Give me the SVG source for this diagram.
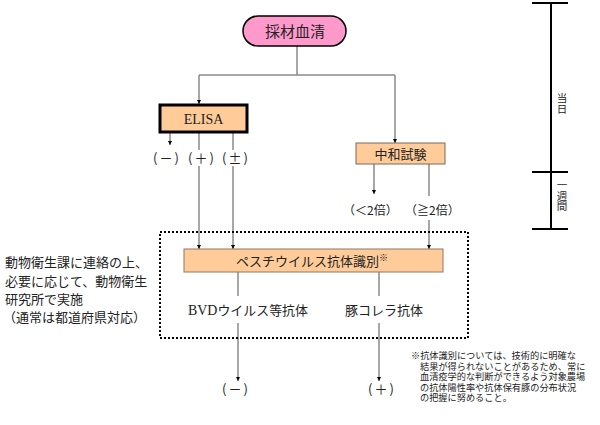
<svg xmlns="http://www.w3.org/2000/svg" width="600" height="425" viewBox="0 0 600 425">
<style>
.jp{font-family:"Noto Sans CJK JP","Noto Sans",sans-serif;fill:#222}
.se{font-family:"Liberation Serif","Times New Roman",serif;fill:#222}
.c{stroke:#8a8a8a;stroke-width:1.5;fill:none}
.ca{stroke:#8a8a8a;stroke-width:1.5;fill:none;marker-end:url(#ah)}
.box{fill:#FFCC99}
.tl{stroke:#000;stroke-width:2}
.fn{font-size:9.2px}
.pm{font-size:13px;letter-spacing:2px}
.vt{writing-mode:vertical-rl;text-orientation:upright;font-size:10.5px}
</style>
<defs>
<marker id="ah" viewBox="0 0 10 10" refX="10" refY="5" markerWidth="4" markerHeight="4" markerUnits="userSpaceOnUse" orient="auto"><path d="M0,0L10,5L0,10z" fill="#000"/></marker>
</defs>
<rect width="600" height="425" fill="#fff"/>
<g id="connectors">
<path class="c" d="M297,46V75M199,75H395"/>
<path class="ca" d="M199,75V104"/>
<path class="ca" d="M395,75V143"/>
<path class="ca" d="M170,132V145"/>
<path class="c" d="M199,132V150M233,132V150"/>
<path class="ca" d="M199,166V249"/>
<path class="ca" d="M233,166V249"/>
<path class="ca" d="M374,164V194"/>
<path class="c" d="M429,164V196"/>
<path class="ca" d="M429,220V249"/>
<path class="c" d="M238,272V296M379,272V296"/>
<path class="ca" d="M238,323V381"/>
<path class="ca" d="M379,323V381"/>
</g>
<g id="timeline">
<path class="tl" d="M551,3V229M532,3H568M532,172H568M532,229H568"/>
<text class="jp vt" x="562" y="93">当日</text>
<text class="jp vt" x="562" y="180">一週間</text>
</g>
<g id="saizai">
<rect x="243" y="16" width="103" height="30" rx="15" fill="#FF99CC" stroke="#000" stroke-width="1.5"/>
<text class="jp" font-size="15" x="295" y="36.5" text-anchor="middle">採材血清</text>
</g>
<g id="elisa">
<rect class="box" x="160" y="105" width="87" height="27" stroke="#000" stroke-width="3"/>
<text class="se" font-size="14" x="203.5" y="123.5" text-anchor="middle">ELISA</text>
</g>
<g id="elisa-results">
<text class="jp pm" x="153" y="162.5">(－)</text>
<text class="jp pm" x="188" y="162.5">(＋)</text>
<text class="jp pm" x="222" y="162.5">(±)</text>
</g>
<g id="chuwa">
<rect class="box" x="356" y="143" width="89" height="21" stroke="#7a6a5a" stroke-width="1"/>
<text class="jp" font-size="13" x="400.5" y="158.5" text-anchor="middle">中和試験</text>
</g>
<g id="chuwa-results">
<text class="jp" font-size="12" x="343" y="214.5">（＜2倍）</text>
<text class="jp" font-size="12" x="405" y="214.5">（≧2倍）</text>
</g>
<g id="dotted-region">
<rect x="160" y="232" width="308" height="106" fill="none" stroke="#000" stroke-width="2" stroke-dasharray="2,2"/>
</g>
<g id="pesti">
<rect class="box" x="184" y="249" width="259" height="23" stroke="#8a7a6a" stroke-width="1"/>
<text class="jp" font-size="13" x="312" y="265.5" text-anchor="middle">ペスチウイルス抗体識別<tspan font-size="9" dy="-5">※</tspan></text>
</g>
<g id="bvd">
<text x="188" y="314.5" font-size="13" textLength="120" lengthAdjust="spacingAndGlyphs"><tspan class="se" font-size="14">BVD</tspan><tspan class="jp">ウイルス等抗体</tspan></text>
</g>
<g id="ton">
<text class="jp" font-size="13" x="384" y="314.5" text-anchor="middle">豚コレラ抗体</text>
</g>
<g id="final-results">
<text class="jp pm" x="222" y="394">(－)</text>
<text class="jp pm" x="368" y="394">(＋)</text>
</g>
<g id="note-left">
<text class="jp" font-size="13" x="5" y="267">動物衛生課に連絡の上、</text>
<text class="jp" font-size="13" x="5" y="285.5">必要に応じて、動物衛生</text>
<text class="jp" font-size="13" x="5" y="304">研究所で実施</text>
<text class="jp" font-size="13" x="3" y="322">（通常は都道府県対応）</text>
</g>
<g id="footnote">
<text class="jp fn" x="411" y="359">※抗体識別については、技術的に明確な</text>
<text class="jp fn" x="420" y="369.5">結果が得られないことがあるため、常に</text>
<text class="jp fn" x="420" y="380">血清疫学的な判断ができるよう対象農場</text>
<text class="jp fn" x="420" y="390.5">の抗体陽性率や抗体保有豚の分布状況</text>
<text class="jp fn" x="420" y="401">の把握に努めること。</text>
</g>
</svg>
